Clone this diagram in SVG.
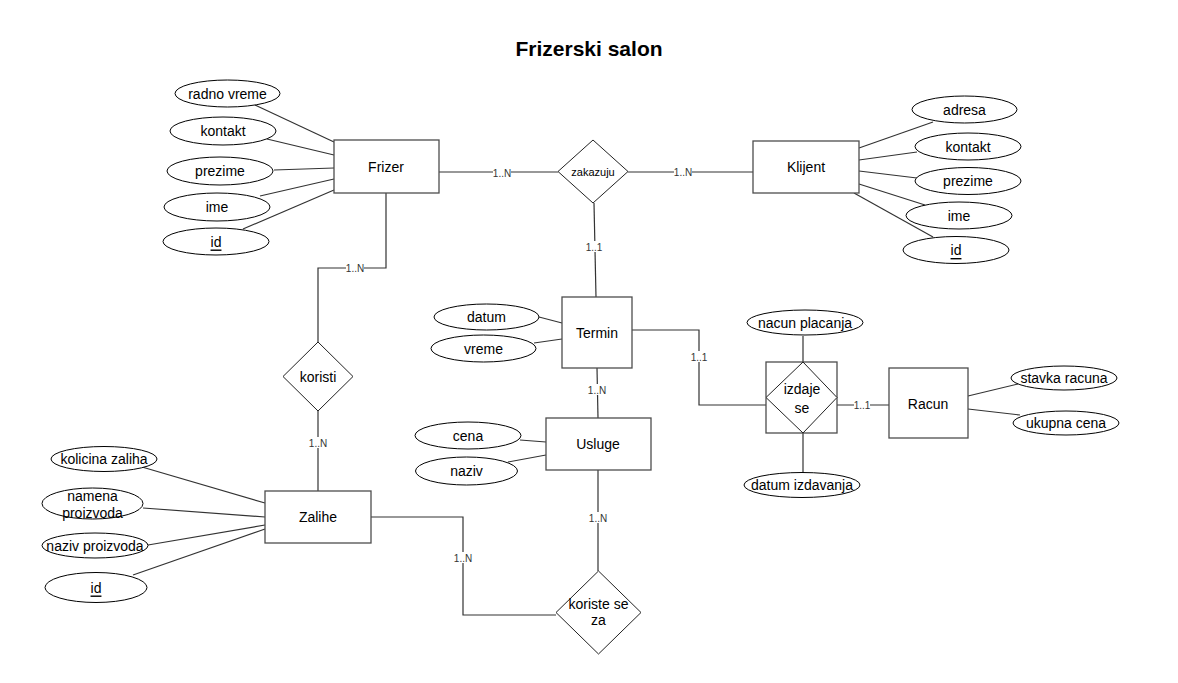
<svg xmlns="http://www.w3.org/2000/svg" width="1178" height="683" viewBox="0 0 1178 683">
<style>
text{font-family:"Liberation Sans",Arial,sans-serif;fill:#000}
.t{font-size:14px;text-anchor:middle;dominant-baseline:central}
.s{font-size:11px;text-anchor:middle;dominant-baseline:central}
.lb{font-size:10px;text-anchor:middle;dominant-baseline:central;fill:#333}
.ent{fill:#fff;stroke:#4d4d4d;stroke-width:1.3}
.att{fill:#fff;stroke:#000;stroke-width:1}
.rel{fill:#fff;stroke:#222;stroke-width:1}
.c{fill:none;stroke:#333;stroke-width:1.2}
.bg{fill:#fff}
</style>
<rect width="1178" height="683" fill="#fff"/>
<text x="589" y="48" style="font-size:21px;font-weight:bold;text-anchor:middle;dominant-baseline:central">Frizerski salon</text>

<g id="connectors">
<path class="c" d="M255,105 L334,142"/>
<path class="c" d="M267,139 L334,155"/>
<path class="c" d="M274,170 L334,168"/>
<path class="c" d="M260,196 L334,179"/>
<path class="c" d="M243,229 L334,190"/>
<path class="c" d="M859,148 L933,122"/>
<path class="c" d="M859,160 L917,152"/>
<path class="c" d="M859,171 L917,178"/>
<path class="c" d="M859,184 L925,205"/>
<path class="c" d="M854,193 L933,237"/>
<path class="c" d="M439,172 L558,172"/>
<path class="c" d="M628,172 L753,172"/>
<path class="c" d="M594,203 L596,297"/>
<path class="c" d="M597,368 L598,418"/>
<path class="c" d="M598,470 L598,571"/>
<path class="c" d="M371,517 L463,517 L463,615 L556,615"/>
<path class="c" d="M386,193 L386,268 L318,268 L318,342"/>
<path class="c" d="M318,411 L318,491"/>
<path class="c" d="M632,330 L699,330 L699,405 L766,405"/>
<path class="c" d="M837,405 L889,405"/>
<path class="c" d="M803,336 L803,362"/>
<path class="c" d="M803,433 L803,473"/>
<path class="c" d="M539,317 L562,323"/>
<path class="c" d="M534,343 L562,339"/>
<path class="c" d="M520,440 L546,442"/>
<path class="c" d="M508,462 L546,455"/>
<path class="c" d="M142,467 L265,503"/>
<path class="c" d="M143,508 L265,517"/>
<path class="c" d="M148,545 L265,525"/>
<path class="c" d="M133,575 L265,529"/>
<path class="c" d="M968,396 L1018,384"/>
<path class="c" d="M968,409 L1020,415"/>
<rect class="bg" x="493" y="167" width="18" height="11"/><text class="lb" x="502" y="173">1..N</text>
<rect class="bg" x="674" y="167" width="18" height="11"/><text class="lb" x="683" y="172">1..N</text>
<rect class="bg" x="586" y="241" width="16" height="11"/><text class="lb" x="594" y="247">1..1</text>
<rect class="bg" x="588" y="384" width="18" height="11"/><text class="lb" x="597" y="390">1..N</text>
<rect class="bg" x="589" y="512" width="18" height="11"/><text class="lb" x="598" y="518">1..N</text>
<rect class="bg" x="454" y="552" width="18" height="11"/><text class="lb" x="463" y="558">1..N</text>
<rect class="bg" x="346" y="262" width="18" height="11"/><text class="lb" x="355" y="268">1..N</text>
<rect class="bg" x="309" y="437" width="18" height="11"/><text class="lb" x="318" y="443">1..N</text>
<rect class="bg" x="691" y="351" width="16" height="11"/><text class="lb" x="699" y="357">1..1</text>
<rect class="bg" x="854" y="399" width="16" height="11"/><text class="lb" x="862" y="405">1..1</text>
</g>

<g id="frizer"><rect class="ent" x="334" y="140" width="105" height="53"/><text class="t" x="386" y="167">Frizer</text></g>
<g id="frizer-radno-vreme"><ellipse class="att" cx="227.5" cy="93.5" rx="52.5" ry="13.5"/><text class="t" x="227.5" y="93.5">radno vreme</text></g>
<g id="frizer-kontakt"><ellipse class="att" cx="223" cy="131" rx="53" ry="14"/><text class="t" x="223" y="131">kontakt</text></g>
<g id="frizer-prezime"><ellipse class="att" cx="220" cy="171" rx="53" ry="14"/><text class="t" x="220" y="171">prezime</text></g>
<g id="frizer-ime"><ellipse class="att" cx="217" cy="207" rx="53" ry="14"/><text class="t" x="217" y="207">ime</text></g>
<g id="frizer-id"><ellipse class="att" cx="216" cy="241.5" rx="53" ry="13.5"/><text class="t" x="216" y="241.5" text-decoration="underline">id</text></g>

<g id="zakazuju"><polygon class="rel" points="593,140 628,171.5 593,203 558,171.5"/><text class="s" x="593" y="172">zakazuju</text></g>

<g id="klijent"><rect class="ent" x="753" y="141" width="106" height="52"/><text class="t" x="806" y="167">Klijent</text></g>
<g id="klijent-adresa"><ellipse class="att" cx="964.5" cy="109.5" rx="52.5" ry="13.5"/><text class="t" x="964.5" y="109.5">adresa</text></g>
<g id="klijent-kontakt"><ellipse class="att" cx="968" cy="146.5" rx="53" ry="13.5"/><text class="t" x="968" y="146.5">kontakt</text></g>
<g id="klijent-prezime"><ellipse class="att" cx="968" cy="181" rx="53" ry="13.5"/><text class="t" x="968" y="181">prezime</text></g>
<g id="klijent-ime"><ellipse class="att" cx="959" cy="215.5" rx="53" ry="13.5"/><text class="t" x="959" y="215.5">ime</text></g>
<g id="klijent-id"><ellipse class="att" cx="956" cy="250" rx="53" ry="13.5"/><text class="t" x="956" y="250" text-decoration="underline">id</text></g>

<g id="termin"><rect class="ent" x="562" y="297" width="70" height="71"/><text class="t" x="597" y="333">Termin</text></g>
<g id="termin-datum"><ellipse class="att" cx="486.5" cy="317" rx="52.5" ry="13"/><text class="t" x="486.5" y="317">datum</text></g>
<g id="termin-vreme"><ellipse class="att" cx="483.5" cy="348.5" rx="52.5" ry="13.5"/><text class="t" x="483.5" y="348.5">vreme</text></g>

<g id="usluge"><rect class="ent" x="546" y="418" width="105" height="52"/><text class="t" x="598" y="444">Usluge</text></g>
<g id="usluge-cena"><ellipse class="att" cx="468" cy="435.5" rx="53" ry="13.5"/><text class="t" x="468" y="435.5">cena</text></g>
<g id="usluge-naziv"><ellipse class="att" cx="466.5" cy="471" rx="51" ry="14"/><text class="t" x="466.5" y="471">naziv</text></g>

<g id="koriste-se-za"><polygon class="rel" points="598.5,571 641,612.5 598.5,654 556,612.5"/><text class="t" x="598.5" y="604">koriste se</text><text class="t" x="598.5" y="620">za</text></g>

<g id="koristi"><polygon class="rel" points="318,342 353,376.5 318,411 283,376.5"/><text class="t" x="318" y="377">koristi</text></g>

<g id="zalihe"><rect class="ent" x="265" y="491" width="106" height="52"/><text class="t" x="318" y="517">Zalihe</text></g>
<g id="zalihe-kolicina"><ellipse class="att" cx="104" cy="459" rx="53" ry="12.5"/><text class="t" x="104" y="459">kolicina zaliha</text></g>
<g id="zalihe-namena"><ellipse class="att" cx="92.5" cy="503.5" rx="50.5" ry="15.5"/><text class="t" x="92.5" y="496">namena</text><text class="t" x="92.5" y="513">proizvoda</text></g>
<g id="zalihe-naziv"><ellipse class="att" cx="95" cy="545.5" rx="53" ry="12.5"/><text class="t" x="95" y="545.5">naziv proizvoda</text></g>
<g id="zalihe-id"><ellipse class="att" cx="96" cy="587.5" rx="51" ry="15"/><text class="t" x="96" y="587.5" text-decoration="underline">id</text></g>

<g id="izdaje-se"><rect class="ent" x="766" y="362" width="71" height="71"/><polygon class="rel" points="803,362 837,397.5 803,433 766,397.5"/><text class="t" x="802" y="389">izdaje</text><text class="t" x="802" y="408">se</text></g>
<g id="izdaje-nacun"><ellipse class="att" cx="805" cy="322.5" rx="58" ry="12.5"/><text class="t" x="805" y="322.5">nacun placanja</text></g>
<g id="izdaje-datum"><ellipse class="att" cx="802" cy="485" rx="58" ry="12.5"/><text class="t" x="802" y="485">datum izdavanja</text></g>

<g id="racun"><rect class="ent" x="889" y="368" width="79" height="70"/><text class="t" x="928" y="404">Racun</text></g>
<g id="racun-stavka"><ellipse class="att" cx="1064" cy="378" rx="53" ry="12"/><text class="t" x="1064" y="378">stavka racuna</text></g>
<g id="racun-ukupna"><ellipse class="att" cx="1066" cy="423" rx="53" ry="12"/><text class="t" x="1066" y="423">ukupna cena</text></g>
</svg>
